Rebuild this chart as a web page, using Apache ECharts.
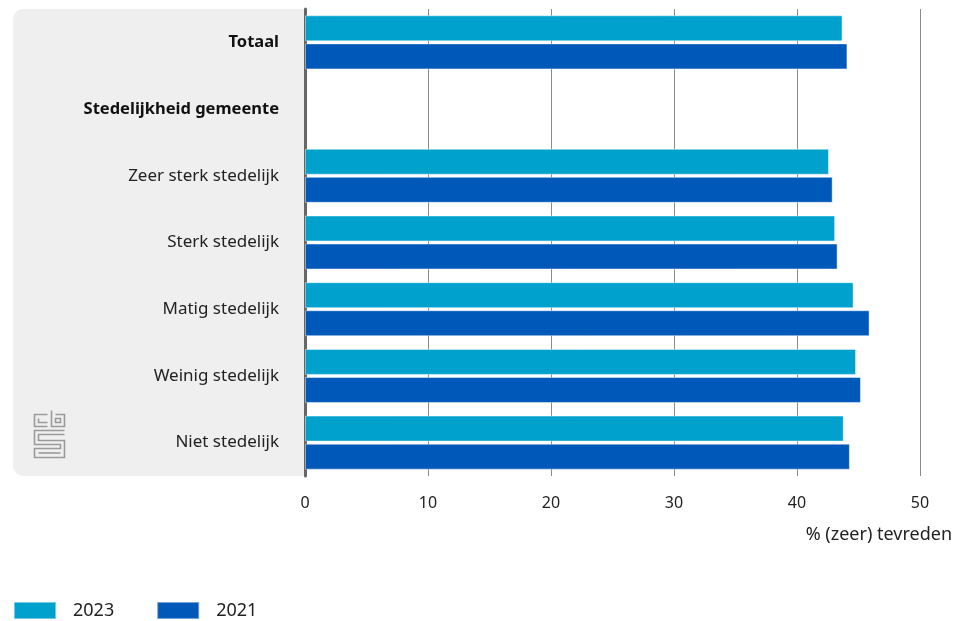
<!DOCTYPE html>
<html>
<head>
<meta charset="utf-8">
<script src="https://cdn.jsdelivr.net/npm/echarts@6/dist/echarts.min.js"></script>
<style>html,body{margin:0;padding:0;background:#fff}#c{width:960px;height:621px}</style>
</head>
<body>
<div id="c"></div>
<script>
const categories = ['Totaal', 'Stedelijkheid gemeente', 'Zeer sterk stedelijk', 'Sterk stedelijk', 'Matig stedelijk', 'Weinig stedelijk', 'Niet stedelijk'];
const boldCategories = ['Totaal', 'Stedelijkheid gemeente'];
const values2023 = [43.7, null, 42.6, 43.1, 44.6, 44.8, 43.8];
const values2021 = [44.1, null, 42.9, 43.3, 45.9, 45.2, 44.3];
const seriesNames = ['2023', '2021'];
const xTicks = [0, 10, 20, 30, 40, 50];
const axisName = '% (zeer) tevreden';

const FONT = '"Noto Sans", sans-serif';
const chart = echarts.init(document.getElementById('c'));
chart.setOption({
  animation: false,
  textStyle: { fontFamily: FONT },
  grid: { left: 305, right: 40, top: 9, bottom: 145, containLabel: false },
  graphic: [
    { type: 'rect', z: -10, silent: true,
      shape: { x: 13, y: 9, width: 292, height: 467, r: [10, 0, 0, 10] },
      style: { fill: '#efefef' } },
    { type: 'group', left: 32, top: 408, silent: true, children: [
      { type: 'polyline', shape: { points: [[13,4],[0,4],[0,16],[13,16]] }, style: { stroke: '#9a9a9a', lineWidth: 1.6, fill: null } },
      { type: 'polyline', shape: { points: [[4,8],[4,12],[13,12]] }, style: { stroke: '#9a9a9a', lineWidth: 1.6, fill: null } },
      { type: 'polyline', shape: { points: [[17,0],[17,16],[30,16],[30,4],[21,4]] }, style: { stroke: '#9a9a9a', lineWidth: 1.6, fill: null } },
      { type: 'rect', shape: { x: 21, y: 8, width: 5, height: 4 }, style: { stroke: '#9a9a9a', lineWidth: 1.6, fill: null } },
      { type: 'polyline', shape: { points: [[30,20],[0,20],[0,34],[26,34],[26,38],[0,38],[0,47],[30,47],[30,30],[4,30],[4,24],[30,24]] }, style: { stroke: '#9a9a9a', lineWidth: 1.6, fill: null } },
      { type: 'polyline', shape: { points: [[4,42.5],[26,42.5]] }, style: { stroke: '#9a9a9a', lineWidth: 1.6, fill: null } }
    ]}
  ],
  legend: {
    left: 13, top: 601, padding: 0, itemWidth: 42, itemHeight: 17, itemGap: 42,
    icon: 'rect',
    textStyle: { fontSize: 18, color: '#222', padding: [0, 0, 0, 12], fontFamily: FONT },
    data: seriesNames
  },
  xAxis: {
    type: 'value', min: 0, max: 50, interval: 10,
    axisLine: { show: false },
    axisTick: { show: false },
    splitLine: { show: true, lineStyle: { color: '#8a8a8a', width: 1 } },
    axisLabel: { fontSize: 16, color: '#222', margin: 19, fontFamily: FONT,
      formatter: v => xTicks.includes(v) ? String(v) : '' },
    name: axisName, nameLocation: 'end', nameGap: 32,
    nameTextStyle: { fontSize: 18, color: '#222', align: 'right', verticalAlign: 'top', padding: [50, 0, 0, 0], fontFamily: FONT }
  },
  yAxis: {
    type: 'category', inverse: true, data: categories,
    axisLine: { show: true, lineStyle: { color: '#666', width: 3 } },
    axisTick: { show: false },
    axisLabel: { margin: 26, fontSize: 17, color: '#222', fontFamily: FONT,
      formatter: v => boldCategories.includes(v) ? '{b|' + v + '}' : v,
      rich: { b: { fontWeight: 'bold', fontSize: 16.5, color: '#111', fontFamily: FONT } } }
  },
  series: [
    { name: seriesNames[0], type: 'bar', data: values2023, barGap: '8%', barCategoryGap: '19%',
      itemStyle: { color: '#00a1cd', borderColor: 'rgba(255,255,255,0.45)', borderWidth: 1 } },
    { name: seriesNames[1], type: 'bar', data: values2021, barGap: '8%', barCategoryGap: '19%',
      itemStyle: { color: '#0058b8', borderColor: 'rgba(255,255,255,0.45)', borderWidth: 1 } }
  ]
});
</script>
</body>
</html>
